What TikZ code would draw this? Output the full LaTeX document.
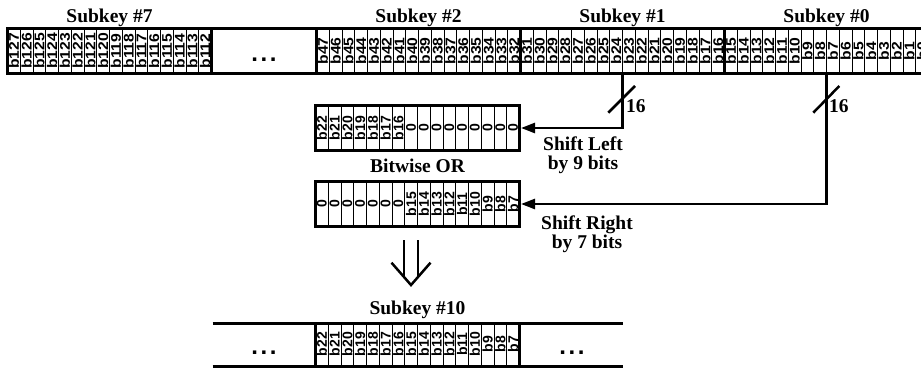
\documentclass[tikz,border=0pt]{standalone}
\usepackage{fontspec}
\usepackage{graphicx}
\setmainfont{Liberation Serif}
\newfontfamily\bitfont{Liberation Sans}
\usetikzlibrary{arrows.meta}
\newcommand{\cw}{12.75}
\begin{document}
\begin{tikzpicture}[x=1pt,y=-1pt,
  thickline/.style={line width=3pt},
  thinline/.style={line width=1pt},
  conn/.style={line width=2.5pt},
  arr/.style={conn,-{Triangle[length=14pt,width=10pt]}},
  bit/.style={rotate=90,inner sep=0pt,font=\bitfont\bfseries\fontsize{14}{14}\selectfont},
  ttl/.style={inner sep=0pt,anchor=base,font=\bfseries\fontsize{19.5}{20}\selectfont},
  dotsty/.style={inner sep=0pt,font=\bitfont\bfseries\fontsize{24}{24}\selectfont},
  boxsty/.style={draw,thickline,outer sep=1.5pt,inner sep=0pt,minimum width=204pt,minimum height=45pt}]
\useasboundingbox (0,0) rectangle (921,367);

% ---------- top row ----------
\foreach \g/\x/\hi in {s7/7.5/127, s2/316.5/47, s1/520.5/31, s0/724.5/15}{
  \foreach \i in {0,...,15}{
    \pgfmathtruncatemacro{\bnum}{\hi-\i}
    \draw[thinline] ({\x+\i*\cw},28.5) -- ({\x+\i*\cw},73.5);
    \node[bit] (\g-\i) at ({\x+(\i+0.5)*\cw},51) {\scalebox{1.12}[1]{b\bnum}};
  }
}
\draw[thickline] (7.5,28.5) rectangle (940,73.5);
\foreach \x in {211.5,316.5,520.5,724.5}{\draw[thickline] (\x,28.5) -- (\x,73.5);}
\node[dotsty] (tdots) at (264,59.5) {.\kern2.6pt.\kern2.6pt.};

\node[ttl] (t7) at (109.5,22.5) {Subkey \#7};
\node[ttl] (t2) at (418.5,22.5) {Subkey \#2};
\node[ttl] (t1) at (622.5,22.5) {Subkey \#1};
\node[ttl] (t0) at (826.5,22.5) {Subkey \#0};

% ---------- shifted words ----------
\node[boxsty] (slbox) at (417.5,128) {};
\node[boxsty] (srbox) at (417.5,204) {};
\foreach \lab [count=\i from 0] in {b22,b21,b20,b19,b18,b17,b16,0,0,0,0,0,0,0,0,0}{
  \ifnum\i>0 \draw[thinline] ({315.5+\i*\cw},105.5) -- ({315.5+\i*\cw},150.5);\fi
  \node[bit] (sl-\i) at ({315.5+(\i+0.5)*\cw},128) {\lab};
}
\foreach \lab [count=\i from 0] in {0,0,0,0,0,0,0,b15,b14,b13,b12,b11,b10,b9,b8,b7}{
  \ifnum\i>0 \draw[thinline] ({315.5+\i*\cw},181.5) -- ({315.5+\i*\cw},226.5);\fi
  \node[bit] (sr-\i) at ({315.5+(\i+0.5)*\cw},204) {\lab};
}
\node[ttl] (bor) at (417.5,172) {Bitwise OR};

% ---------- connectors ----------
\coordinate (tap1) at (622.5,73.5);
\coordinate (tap0) at (826.5,73.5);
\draw[arr] (tap1) |- (slbox.east);
\draw[arr] (tap0) |- (srbox.east);
\draw[conn] (608.3,112.7) -- (635,86);
\draw[conn] (813.3,112.7) -- (839.3,86);
\node[ttl,anchor=base west] (n1) at (626,112) {16};
\node[ttl,anchor=base west] (n0) at (829,112) {16};
\node[ttl] (sl1) at (583,150.5) {Shift Left};
\node[ttl] (sl2) at (583,169.5) {by 9 bits};
\node[ttl] (sr1) at (587,229.5) {Shift Right};
\node[ttl] (sr2) at (587,248.5) {by 7 bits};

% ---------- implies arrow ----------
\draw[conn] (404,240) -- (404,277.2);
\draw[conn] (418,240) -- (418,277.2);
\draw[conn,line join=miter] (391.5,262.7) -- (411,285) -- (430.5,262.7);

% ---------- result ----------
\node[ttl] (t10) at (417.5,314.5) {Subkey \#10};
\foreach \lab [count=\i from 0] in {b22,b21,b20,b19,b18,b17,b16,b15,b14,b13,b12,b11,b10,b9,b8,b7}{
  \ifnum\i>0 \draw[thinline] ({315.5+\i*\cw},323.5) -- ({315.5+\i*\cw},366);\fi
  \node[bit] (r-\i) at ({315.5+(\i+0.5)*\cw},344) {\lab};
}
\draw[thickline] (212.5,323.5) -- (623,323.5);
\draw[thickline] (212.5,366.5) -- (623,366.5);
\draw[thickline] (315.5,323.5) -- (315.5,367);
\draw[thickline] (519.5,323.5) -- (519.5,367);
\node[dotsty] (ldots) at (264,352.5) {.\kern2.6pt.\kern2.6pt.};
\node[dotsty] (rdots) at (572,352.5) {.\kern2.6pt.\kern2.6pt.};
\end{tikzpicture}
\end{document}
